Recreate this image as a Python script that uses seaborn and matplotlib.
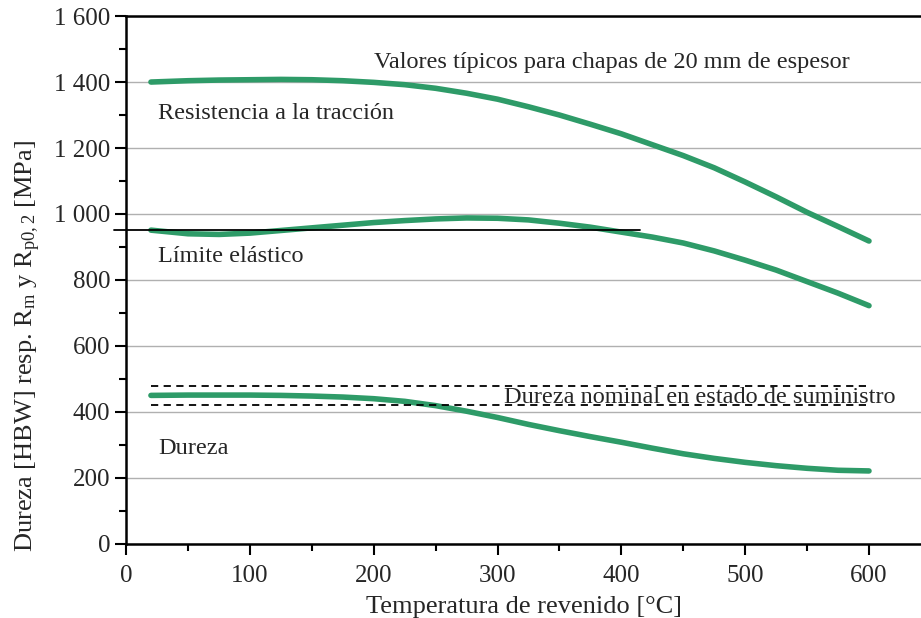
import matplotlib
matplotlib.use("Agg")
import matplotlib.pyplot as plt
from matplotlib.ticker import FuncFormatter, MultipleLocator
import numpy as np
import pandas as pd
import seaborn as sns

# Valores
temp = [20, 50, 75, 100, 125, 150, 175, 200, 225, 250, 275, 300,
        325, 350, 375, 400, 425, 450, 475, 500, 525, 550, 575, 600]
resistencia = [1400, 1404, 1406, 1407, 1408, 1407, 1404, 1399, 1392, 1381, 1366, 1348,
               1325, 1300, 1272, 1243, 1210, 1177, 1140, 1097, 1052, 1005, 962, 918]
limite = [951, 940, 938, 942, 950, 958, 966, 974, 980, 985, 988, 987,
          982, 972, 960, 945, 930, 912, 888, 860, 830, 795, 760, 722]
dureza = [450, 451, 451, 451, 450, 448, 445, 440, 432, 419, 402, 383,
          362, 343, 325, 308, 290, 273, 259, 247, 237, 229, 223, 221]

limite_ref_x = [-10, 415]
limite_ref_y = 950
dureza_nom = [420, 480]
dureza_nom_x = [20, 600]

green = "#2e9b68"

sns.set_style("ticks")
plt.rcParams['font.family'] = ['Liberation Serif', 'DejaVu Serif']
plt.rcParams['mathtext.fontset'] = 'custom'
plt.rcParams['mathtext.rm'] = 'Liberation Serif'
plt.rcParams['mathtext.it'] = 'Liberation Serif:italic'

df = pd.DataFrame({"temp": temp, "Resistencia": resistencia,
                   "Limite": limite, "Dureza": dureza})

fig = plt.figure(figsize=(9.21, 6.18), dpi=100)
ax = fig.add_axes([0.137, 0.12, 0.863, 0.854])

ax.grid(axis="y", color="#b0b0b0", lw=1.0)
ax.set_axisbelow(True)

for col in ["Resistencia", "Limite", "Dureza"]:
    sns.lineplot(data=df, x="temp", y=col, ax=ax, color=green, lw=4, zorder=3)

ax.plot(limite_ref_x, [limite_ref_y] * 2, color="black", lw=1.3, zorder=4, clip_on=False)
for v in dureza_nom:
    ax.plot(dureza_nom_x, [v, v], color="black", lw=1.3, ls=(0, (4, 3)), zorder=4)

ax.set_xlim(0, 642)
ax.set_ylim(0, 1600)
ax.xaxis.set_major_locator(MultipleLocator(100))
ax.xaxis.set_minor_locator(MultipleLocator(50))
ax.yaxis.set_major_locator(MultipleLocator(200))
ax.yaxis.set_minor_locator(MultipleLocator(100))
ax.yaxis.set_major_formatter(FuncFormatter(lambda v, p: f"{int(v):,}".replace(",", " ")))
ax.tick_params(which="major", length=8, width=1.5, labelsize=18, color="black")
ax.tick_params(which="minor", length=5, width=1.5, color="black")
ax.tick_params(axis="x", which="major", pad=7)

for s in ["left", "bottom", "top"]:
    ax.spines[s].set_linewidth(1.8)
    ax.spines[s].set_color("black")
ax.spines["right"].set_visible(False)

ax.set_xlabel("Temperatura de revenido [°C]", fontsize=19, labelpad=7)
ax.set_ylabel(r"Dureza [HBW] resp. R$_\mathrm{m}$ y R$_\mathrm{p0,2}$ [MPa]", fontsize=19)
ax.yaxis.set_label_coords(-0.105, 0.375)

fs = 17.5
ax.text(200, 1458, "Valores típicos para chapas de 20 mm de espesor", fontsize=fs, va="center")
ax.text(26, 1306, "Resistencia a la tracción", fontsize=fs, va="center")
ax.text(26, 870, "Límite elástico", fontsize=fs, va="center")
ax.text(305, 443, "Dureza nominal en estado de suministro", fontsize=fs, va="center")
ax.text(26, 290, "Dureza", fontsize=fs, va="center")

fig.savefig("out.png", dpi=100)
